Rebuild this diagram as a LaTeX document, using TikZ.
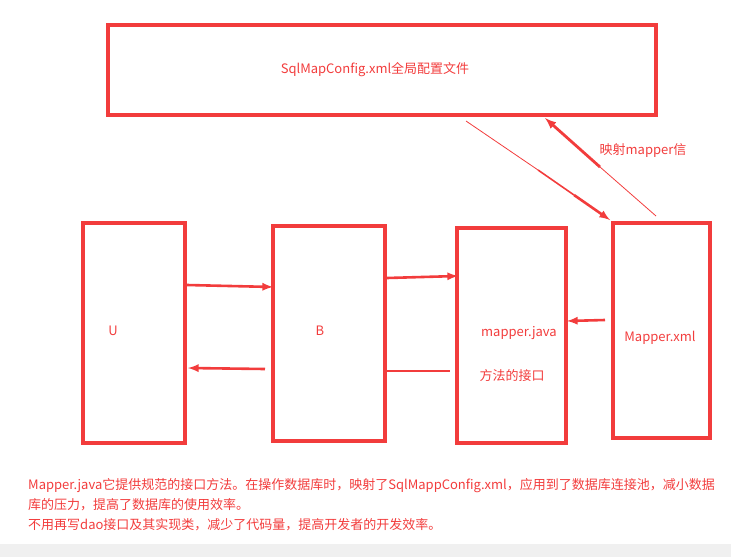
\documentclass[tikz,border=0pt]{standalone}
\usepackage{fontspec}
\usetikzlibrary{calc}
\setmainfont{Noto Sans CJK SC}
\definecolor{rd}{HTML}{F23C3C}
\begin{document}
\begin{tikzpicture}[x=1pt,y=-1pt,
  box/.style={draw=rd,line width=3.2pt},
  lbl/.style={text=rd,font=\fontsize{13}{16}\selectfont,inner sep=0pt},
  arr/.style={draw=rd,line width=2.6pt,-latex}]
\useasboundingbox (0,0) rectangle (731,557);
\fill[gray!12] (0,544) rectangle (731,557);
\draw[box] (108,25) rectangle (656,115);
\node[lbl] (top) at (375,70) {SqlMapConfig.xml全局配置文件};
\draw[box] (83,223) rectangle (185,443);
\node[lbl] (u) at (113,331) {U};
\draw[box] (273,226) rectangle (385,441);
\node[lbl] (b) at (320,331) {B};
\draw[box] (457,228) rectangle (566,443);
\node[lbl] (mj) at (519,333) {mapper.java};
\node[lbl] (ff) at (512,376) {方法的接口};
\draw[box] (613,223) rectangle (710,438);
\node[lbl] (mx) at (660,338) {Mapper.xml};
\coordinate (a1) at (187,285); \coordinate (a2) at (273,287);
\draw[arr] (a1) -- (a2);
\coordinate (c1) at (265,369); \coordinate (c2) at (188,368);
\draw[arr] (c1) -- (c2);
\coordinate (d1) at (387,278); \coordinate (d2) at (458,276);
\draw[arr] (d1) -- (d2);
\coordinate (e1) at (605,320); \coordinate (e2) at (567,321);
\draw[arr] (e1) -- (e2);
\coordinate (f1) at (387,371); \coordinate (f2) at (450,371);
\draw[draw=rd,line width=2.6pt] (f1) -- (f2);
\coordinate (g1) at (466,121); \coordinate (gm) at (538,170); \coordinate (g2) at (610,220);
\draw[draw=rd,line width=0.8pt] (g1) -- (gm);
\draw[draw=rd,line width=1.6pt] (gm) -- ($(gm)!0.5!(g2)$);
\draw[arr] ($(gm)!0.5!(g2)$) -- (g2);
\coordinate (h1) at (656,216); \coordinate (hm) at (600,167); \coordinate (h2) at (545,118);
\draw[draw=rd,line width=0.8pt] (h1) -- (hm);
\draw[arr,line width=2.8pt] (hm) -- (h2);
\node[lbl] (ms) at (643,151) {映射mapper信};
\node[lbl,anchor=west] (t1) at (28,486) {Mapper.java它提供规范的接口方法。在操作数据库时，映射了SqlMappConfig.xml，应用到了数据库连接池，减小数据};
\node[lbl,anchor=west] (t2) at (28,505) {库的压力，提高了数据库的使用效率。};
\node[lbl,anchor=west] (t3) at (28,525) {不用再写dao接口及其实现类，减少了代码量，提高开发者的开发效率。};
\end{tikzpicture}
\end{document}
